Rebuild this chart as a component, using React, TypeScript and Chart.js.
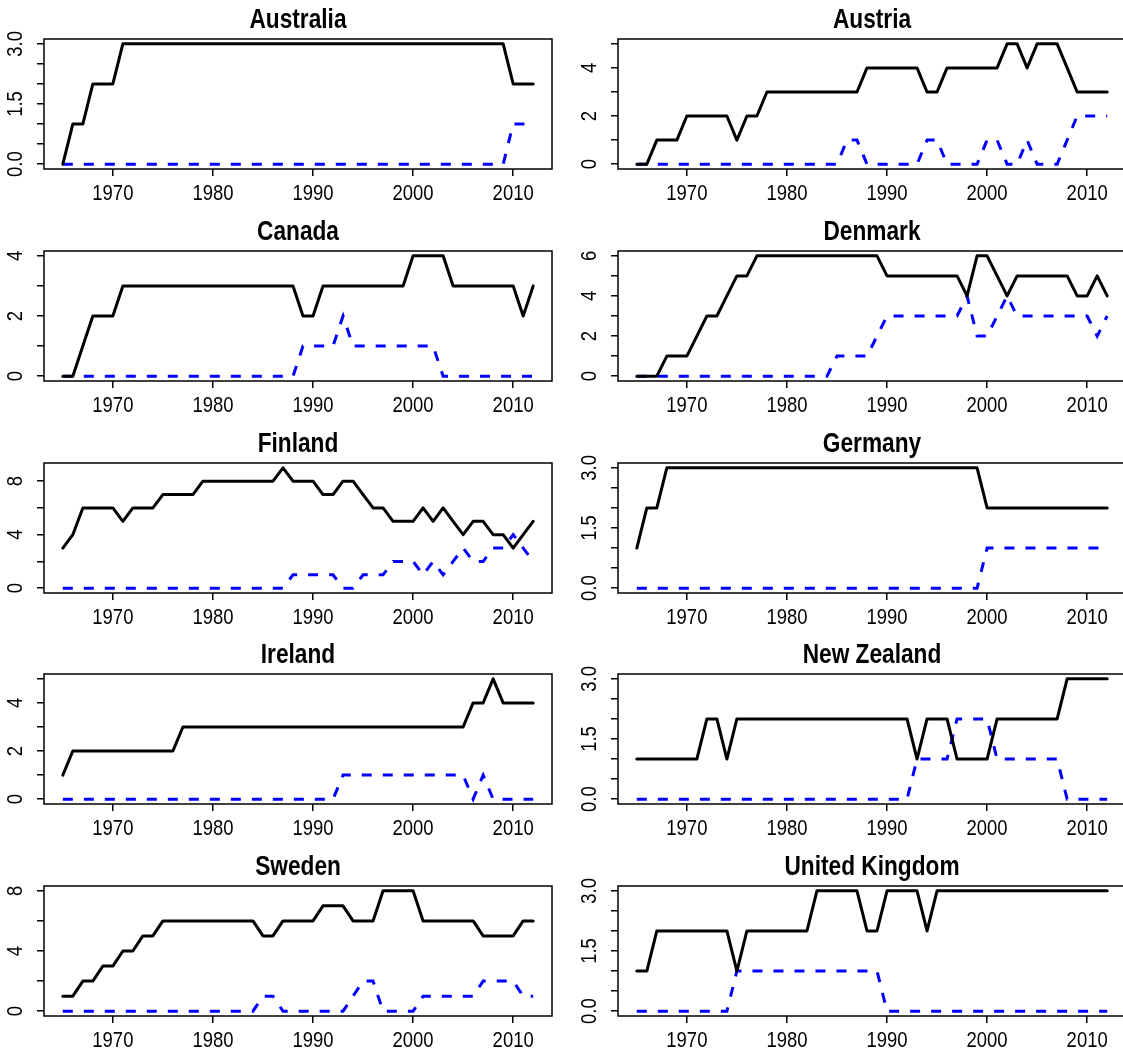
import React, { useEffect, useRef } from "react";
import { Chart, registerables } from "chart.js";

Chart.register(...registerables);

// ---------------- data ----------------
const years = [
  1965, 1966, 1967, 1968, 1969, 1970, 1971, 1972, 1973, 1974,
  1975, 1976, 1977, 1978, 1979, 1980, 1981, 1982, 1983, 1984,
  1985, 1986, 1987, 1988, 1989, 1990, 1991, 1992, 1993, 1994,
  1995, 1996, 1997, 1998, 1999, 2000, 2001, 2002, 2003, 2004,
  2005, 2006, 2007, 2008, 2009, 2010, 2011, 2012,
];

const xTickValues = [1970, 1980, 1990, 2000, 2010];

const australiaBlack = [
  0, 1, 1, 2, 2, 2, 3, 3, 3, 3,
  3, 3, 3, 3, 3, 3, 3, 3, 3, 3,
  3, 3, 3, 3, 3, 3, 3, 3, 3, 3,
  3, 3, 3, 3, 3, 3, 3, 3, 3, 3,
  3, 3, 3, 3, 3, 2, 2, 2,
];
const australiaBlue = [
  0, 0, 0, 0, 0, 0, 0, 0, 0, 0,
  0, 0, 0, 0, 0, 0, 0, 0, 0, 0,
  0, 0, 0, 0, 0, 0, 0, 0, 0, 0,
  0, 0, 0, 0, 0, 0, 0, 0, 0, 0,
  0, 0, 0, 0, 0, 1, 1, 1,
];

const austriaBlack = [
  0, 0, 1, 1, 1, 2, 2, 2, 2, 2,
  1, 2, 2, 3, 3, 3, 3, 3, 3, 3,
  3, 3, 3, 4, 4, 4, 4, 4, 4, 3,
  3, 4, 4, 4, 4, 4, 4, 5, 5, 4,
  5, 5, 5, 4, 3, 3, 3, 3,
];
const austriaBlue = [
  0, 0, 0, 0, 0, 0, 0, 0, 0, 0,
  0, 0, 0, 0, 0, 0, 0, 0, 0, 0,
  0, 1, 1, 0, 0, 0, 0, 0, 0, 1,
  1, 0, 0, 0, 0, 1, 1, 0, 0, 1,
  0, 0, 0, 1, 2, 2, 2, 2,
];

const canadaBlack = [
  0, 0, 1, 2, 2, 2, 3, 3, 3, 3,
  3, 3, 3, 3, 3, 3, 3, 3, 3, 3,
  3, 3, 3, 3, 2, 2, 3, 3, 3, 3,
  3, 3, 3, 3, 3, 4, 4, 4, 4, 3,
  3, 3, 3, 3, 3, 3, 2, 3,
];
const canadaBlue = [
  0, 0, 0, 0, 0, 0, 0, 0, 0, 0,
  0, 0, 0, 0, 0, 0, 0, 0, 0, 0,
  0, 0, 0, 0, 1, 1, 1, 1, 2, 1,
  1, 1, 1, 1, 1, 1, 1, 1, 0, 0,
  0, 0, 0, 0, 0, 0, 0, 0,
];

const denmarkBlack = [
  0, 0, 0, 1, 1, 1, 2, 3, 3, 4,
  5, 5, 6, 6, 6, 6, 6, 6, 6, 6,
  6, 6, 6, 6, 6, 5, 5, 5, 5, 5,
  5, 5, 5, 4, 6, 6, 5, 4, 5, 5,
  5, 5, 5, 5, 4, 4, 5, 4,
];
const denmarkBlue = [
  0, 0, 0, 0, 0, 0, 0, 0, 0, 0,
  0, 0, 0, 0, 0, 0, 0, 0, 0, 0,
  1, 1, 1, 1, 2, 3, 3, 3, 3, 3,
  3, 3, 3, 4, 2, 2, 3, 4, 3, 3,
  3, 3, 3, 3, 3, 3, 2, 3,
];

const finlandBlack = [
  3, 4, 6, 6, 6, 6, 5, 6, 6, 6,
  7, 7, 7, 7, 8, 8, 8, 8, 8, 8,
  8, 8, 9, 8, 8, 8, 7, 7, 8, 8,
  7, 6, 6, 5, 5, 5, 6, 5, 6, 5,
  4, 5, 5, 4, 4, 3, 4, 5,
];
const finlandBlue = [
  0, 0, 0, 0, 0, 0, 0, 0, 0, 0,
  0, 0, 0, 0, 0, 0, 0, 0, 0, 0,
  0, 0, 0, 1, 1, 1, 1, 1, 0, 0,
  1, 1, 1, 2, 2, 2, 1, 2, 1, 2,
  3, 2, 2, 3, 3, 4, 3, 2,
];

const germanyBlack = [
  1, 2, 2, 3, 3, 3, 3, 3, 3, 3,
  3, 3, 3, 3, 3, 3, 3, 3, 3, 3,
  3, 3, 3, 3, 3, 3, 3, 3, 3, 3,
  3, 3, 3, 3, 3, 2, 2, 2, 2, 2,
  2, 2, 2, 2, 2, 2, 2, 2,
];
const germanyBlue = [
  0, 0, 0, 0, 0, 0, 0, 0, 0, 0,
  0, 0, 0, 0, 0, 0, 0, 0, 0, 0,
  0, 0, 0, 0, 0, 0, 0, 0, 0, 0,
  0, 0, 0, 0, 0, 1, 1, 1, 1, 1,
  1, 1, 1, 1, 1, 1, 1, 1,
];

const irelandBlack = [
  1, 2, 2, 2, 2, 2, 2, 2, 2, 2,
  2, 2, 3, 3, 3, 3, 3, 3, 3, 3,
  3, 3, 3, 3, 3, 3, 3, 3, 3, 3,
  3, 3, 3, 3, 3, 3, 3, 3, 3, 3,
  3, 4, 4, 5, 4, 4, 4, 4,
];
const irelandBlue = [
  0, 0, 0, 0, 0, 0, 0, 0, 0, 0,
  0, 0, 0, 0, 0, 0, 0, 0, 0, 0,
  0, 0, 0, 0, 0, 0, 0, 0, 1, 1,
  1, 1, 1, 1, 1, 1, 1, 1, 1, 1,
  1, 0, 1, 0, 0, 0, 0, 0,
];

const newZealandBlack = [
  1, 1, 1, 1, 1, 1, 1, 2, 2, 1,
  2, 2, 2, 2, 2, 2, 2, 2, 2, 2,
  2, 2, 2, 2, 2, 2, 2, 2, 1, 2,
  2, 2, 1, 1, 1, 1, 2, 2, 2, 2,
  2, 2, 2, 3, 3, 3, 3, 3,
];
const newZealandBlue = [
  0, 0, 0, 0, 0, 0, 0, 0, 0, 0,
  0, 0, 0, 0, 0, 0, 0, 0, 0, 0,
  0, 0, 0, 0, 0, 0, 0, 0, 1, 1,
  1, 1, 2, 2, 2, 2, 1, 1, 1, 1,
  1, 1, 1, 0, 0, 0, 0, 0,
];

const swedenBlack = [
  1, 1, 2, 2, 3, 3, 4, 4, 5, 5,
  6, 6, 6, 6, 6, 6, 6, 6, 6, 6,
  5, 5, 6, 6, 6, 6, 7, 7, 7, 6,
  6, 6, 8, 8, 8, 8, 6, 6, 6, 6,
  6, 6, 5, 5, 5, 5, 6, 6,
];
const swedenBlue = [
  0, 0, 0, 0, 0, 0, 0, 0, 0, 0,
  0, 0, 0, 0, 0, 0, 0, 0, 0, 0,
  1, 1, 0, 0, 0, 0, 0, 0, 0, 1,
  2, 2, 0, 0, 0, 0, 1, 1, 1, 1,
  1, 1, 2, 2, 2, 2, 1, 1,
];

const ukBlack = [
  1, 1, 2, 2, 2, 2, 2, 2, 2, 2,
  1, 2, 2, 2, 2, 2, 2, 2, 3, 3,
  3, 3, 3, 2, 2, 3, 3, 3, 3, 2,
  3, 3, 3, 3, 3, 3, 3, 3, 3, 3,
  3, 3, 3, 3, 3, 3, 3, 3,
];
const ukBlue = [
  0, 0, 0, 0, 0, 0, 0, 0, 0, 0,
  1, 1, 1, 1, 1, 1, 1, 1, 1, 1,
  1, 1, 1, 1, 1, 0, 0, 0, 0, 0,
  0, 0, 0, 0, 0, 0, 0, 0, 0, 0,
  0, 0, 0, 0, 0, 0, 0, 0,
];

// y-axis tick marks and labelled ticks
const ticksHalf = [0, 0.5, 1, 1.5, 2, 2.5, 3];
const labelsHalf = ["0.0", "1.5", "3.0"];
const labelsHalfValues = [0, 1.5, 3];
const ticks0to4 = [0, 1, 2, 3, 4];
const ticks0to5 = [0, 1, 2, 3, 4, 5];
const ticks0to6 = [0, 1, 2, 3, 4, 5, 6];
const ticksEven8 = [0, 2, 4, 6, 8];
const labels024 = ["0", "2", "4"];
const labels024Values = [0, 2, 4];
const labels0246 = ["0", "2", "4", "6"];
const labels0246Values = [0, 2, 4, 6];
const labels048 = ["0", "4", "8"];
const labels048Values = [0, 4, 8];

const titles = [
  "Australia", "Austria", "Canada", "Denmark", "Finland",
  "Germany", "Ireland", "New Zealand", "Sweden", "United Kingdom",
];

const panels = [
  { title: titles[0], black: australiaBlack, blue: australiaBlue, top: 3, ticks: ticksHalf, labels: labelsHalf, labelValues: labelsHalfValues },
  { title: titles[1], black: austriaBlack, blue: austriaBlue, top: 5, ticks: ticks0to5, labels: labels024, labelValues: labels024Values },
  { title: titles[2], black: canadaBlack, blue: canadaBlue, top: 4, ticks: ticks0to4, labels: labels024, labelValues: labels024Values },
  { title: titles[3], black: denmarkBlack, blue: denmarkBlue, top: 6, ticks: ticks0to6, labels: labels0246, labelValues: labels0246Values },
  { title: titles[4], black: finlandBlack, blue: finlandBlue, top: 9, ticks: ticksEven8, labels: labels048, labelValues: labels048Values },
  { title: titles[5], black: germanyBlack, blue: germanyBlue, top: 3, ticks: ticksHalf, labels: labelsHalf, labelValues: labelsHalfValues },
  { title: titles[6], black: irelandBlack, blue: irelandBlue, top: 5, ticks: ticks0to5, labels: labels024, labelValues: labels024Values },
  { title: titles[7], black: newZealandBlack, blue: newZealandBlue, top: 3, ticks: ticksHalf, labels: labelsHalf, labelValues: labelsHalfValues },
  { title: titles[8], black: swedenBlack, blue: swedenBlue, top: 8, ticks: ticksEven8, labels: labels048, labelValues: labels048Values },
  { title: titles[9], black: ukBlack, blue: ukBlue, top: 3, ticks: ticksHalf, labels: labelsHalf, labelValues: labelsHalfValues },
];

// ---------------- layout ----------------
const FONT = "'Liberation Sans', Arial, sans-serif";
const NARROW = 0.84; // horizontal condensing of text (narrow Helvetica look)
const ROW_H = 211.75;
const CANVAS_H = 232;
const BOX_TOP = 39;
const BOX_BOTTOM = 169;
const COLS = [
  { left: 0, width: 562, boxL: 44, boxR: 552 },
  { left: 561, width: 575, boxL: 57, boxR: 565 },
];

function narrowText(ctx: CanvasRenderingContext2D, text: string, x: number, y: number, rot: number) {
  ctx.save();
  ctx.translate(x, y);
  if (rot) ctx.rotate(rot);
  ctx.scale(NARROW, 1);
  ctx.fillText(text, 0, 0);
  ctx.restore();
}

const decoPlugin = {
  id: "panelDeco",
  afterDraw(chart: any, _args: any, opts: any) {
    const { ctx, chartArea } = chart;
    const { left, top, right, bottom } = chartArea;
    ctx.save();
    ctx.strokeStyle = "#000";
    ctx.lineWidth = 1.5;
    ctx.strokeRect(left, top, right - left, bottom - top);
    ctx.fillStyle = "#000";
    ctx.textAlign = "center";
    ctx.textBaseline = "alphabetic";
    // title
    ctx.font = `bold 27px ${FONT}`;
    narrowText(ctx, opts.title, (left + right) / 2, 28, 0);
    // y labels (rotated, parallel to the axis)
    ctx.font = `22px ${FONT}`;
    const ys = chart.scales.y;
    (opts.labelValues as number[]).forEach((v: number, i: number) => {
      narrowText(ctx, opts.labels[i], left - 22, ys.getPixelForValue(v), -Math.PI / 2);
    });
    // x labels from the x scale's ticks
    const xs = chart.scales.x;
    xs.ticks.forEach((t: any) => {
      narrowText(ctx, String(t.value), xs.getPixelForValue(t.value), bottom + 31, 0);
    });
    ctx.restore();
  },
};

function Panel({ p, row, col }: { p: any; row: number; col: number }) {
  const ref = useRef<HTMLCanvasElement | null>(null);
  const c = COLS[col];
  useEffect(() => {
    if (!ref.current) return;
    const pad = 0.04;
    const span = years[years.length - 1] - years[0];
    const xMin = years[0] - pad * span;
    const xMax = years[years.length - 1] + pad * span;
    const tickGrid = {
      display: true,
      drawOnChartArea: false,
      drawTicks: true,
      tickLength: 7,
      color: "#000",
      lineWidth: 1.5,
    };
    const chart = new Chart(ref.current, {
      type: "line",
      data: {
        datasets: [
          {
            data: years.map((y, i) => ({ x: y, y: p.black[i] })),
            borderColor: "#000000",
            borderWidth: 3,
            pointRadius: 0,
            borderJoinStyle: "round",
            borderCapStyle: "round",
            tension: 0,
          },
          {
            data: years.map((y, i) => ({ x: y, y: p.blue[i] })),
            borderColor: "#0000ff",
            borderWidth: 3,
            borderDash: [10, 11],
            pointRadius: 0,
            tension: 0,
          },
        ],
      },
      options: {
        animation: false,
        responsive: false,
        events: [],
        layout: { padding: { top: BOX_TOP, right: c.width - c.boxR, left: 0, bottom: 0 } },
        plugins: {
          legend: { display: false },
          tooltip: { enabled: false },
          title: { display: false },
          panelDeco: { title: p.title, labels: p.labels, labelValues: p.labelValues },
        } as any,
        scales: {
          x: {
            type: "linear",
            min: xMin,
            max: xMax,
            afterBuildTicks: (s: any) => {
              s.ticks = xTickValues.map((v) => ({ value: v }));
            },
            afterFit: (s: any) => {
              s.height = CANVAS_H - BOX_BOTTOM;
            },
            grid: tickGrid,
            border: { display: false },
            ticks: { display: false, autoSkip: false },
          },
          y: {
            type: "linear",
            min: -pad * p.top,
            max: p.top * (1 + pad),
            afterBuildTicks: (s: any) => {
              s.ticks = p.ticks.map((v: number) => ({ value: v }));
            },
            afterFit: (s: any) => {
              s.width = c.boxL;
            },
            grid: tickGrid,
            border: { display: false },
            ticks: { display: false },
          },
        },
      } as any,
      plugins: [decoPlugin],
    });
    return () => chart.destroy();
  }, []);
  return (
    <canvas
      ref={ref}
      width={c.width}
      height={CANVAS_H}
      style={{
        position: "absolute",
        left: c.left,
        top: Math.round(ROW_H * row),
        width: c.width,
        height: CANVAS_H,
      }}
    />
  );
}

export default function App() {
  return (
    <div
      style={{
        position: "absolute",
        left: 0,
        top: 0,
        width: 1123,
        height: 1057,
        overflow: "hidden",
        background: "#ffffff",
      }}
    >
      {panels.map((p, i) => (
        <Panel key={p.title} p={p} row={Math.floor(i / 2)} col={i % 2} />
      ))}
    </div>
  );
}
